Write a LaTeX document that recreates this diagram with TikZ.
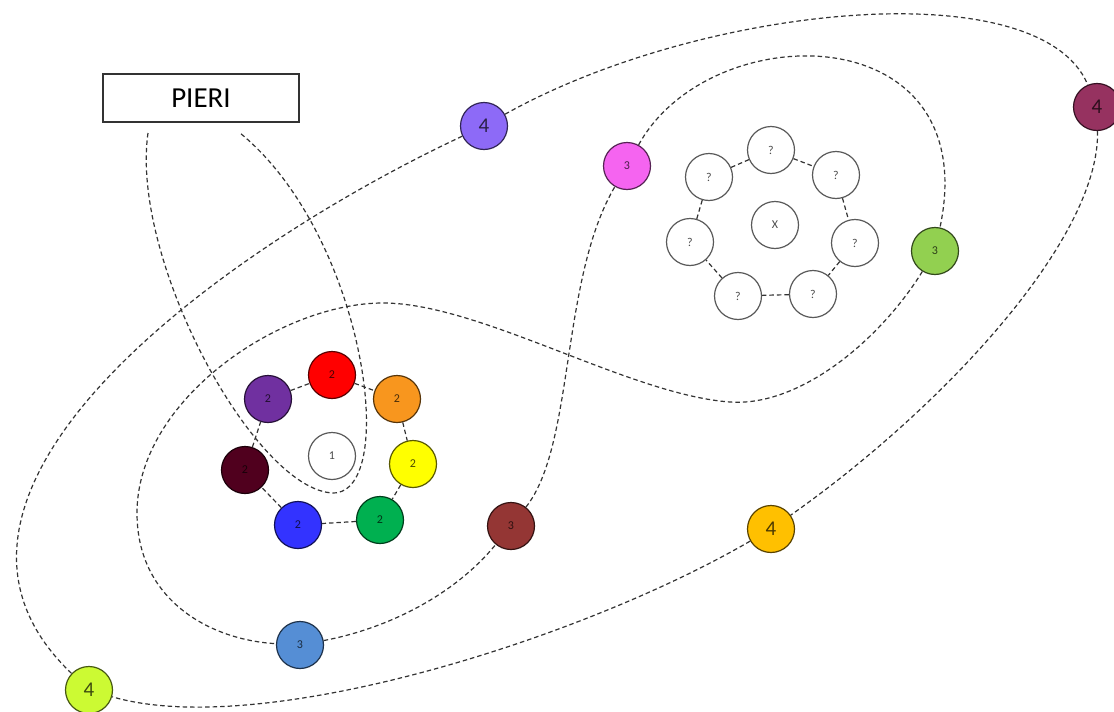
\documentclass[tikz,border=0pt]{standalone}
\usepackage{fontspec}
\setmainfont{Carlito}
\definecolor{redc}{RGB}{255,0,0}
\definecolor{orangec}{RGB}{248,150,30}
\definecolor{yellowc}{RGB}{255,255,0}
\definecolor{greenc}{RGB}{0,176,80}
\definecolor{bluec}{RGB}{51,51,255}
\definecolor{darkc}{RGB}{80,0,30}
\definecolor{purplec}{RGB}{112,48,160}
\definecolor{pinkc}{RGB}{245,100,240}
\definecolor{limegreenc}{RGB}{146,208,80}
\definecolor{brownc}{RGB}{148,54,52}
\definecolor{skyc}{RGB}{85,142,213}
\definecolor{violetc}{RGB}{141,106,247}
\definecolor{plumc}{RGB}{150,50,96}
\definecolor{goldc}{RGB}{255,192,0}
\definecolor{limec}{RGB}{204,250,51}
\begin{document}
\begin{tikzpicture}[x=1pt, y=-1pt,
ball/.style={circle, minimum size=47pt, inner sep=0pt, line width=1.2pt,
  draw=#1!35!black, fill=#1, text=#1!30!black},
small/.style={font=\fontsize{12}{12}\selectfont},
big/.style={font=\fontsize{21}{21}\selectfont},
link/.style={draw=black!80, line width=1.2pt, dash pattern=on 4.5pt off 3pt}]
\useasboundingbox (0,0) rectangle (1114,712);
\node[draw=black!80, line width=1.2pt, minimum width=196pt, minimum height=48pt,
  font=\fontsize{29}{29}\selectfont] (pieri) at (201,98) {PIERI};
\coordinate (pl) at (148,133);
\coordinate (pr) at (240,133);
\node[ball=white, small] (one) at (332,456) {1};
\node[ball=redc, small] (two1) at (332,375) {2};
\node[ball=orangec, small] (two2) at (397,399) {2};
\node[ball=yellowc, small] (two3) at (413,464) {2};
\node[ball=greenc, small] (two4) at (380,520) {2};
\node[ball=bluec, small] (two5) at (298,525) {2};
\node[ball=darkc, small] (two6) at (245,470) {2};
\node[ball=purplec, small] (two7) at (268,399) {2};
\node[ball=white, small] (ex) at (775,225) {X};
\node[ball=white, small] (que1) at (771,150) {?};
\node[ball=white, small] (que2) at (836,175) {?};
\node[ball=white, small] (que3) at (855,243) {?};
\node[ball=white, small] (que4) at (813,294) {?};
\node[ball=white, small] (que5) at (738,296) {?};
\node[ball=white, small] (que6) at (690,242) {?};
\node[ball=white, small] (que7) at (709,177) {?};
\node[ball=pinkc, small] (three1) at (627,166) {3};
\node[ball=limegreenc, small] (three2) at (935,251) {3};
\node[ball=brownc, small] (three3) at (511,526) {3};
\node[ball=skyc, small] (three4) at (300,645) {3};
\node[ball=violetc, big] (four1) at (484,126) {4};
\node[ball=plumc, big] (four2) at (1097,107) {4};
\node[ball=goldc, big] (four3) at (771,529) {4};
\node[ball=limec, big] (four4) at (89,690) {4};
\draw[link] (two1) -- (two2) (two2) -- (two3) (two3) -- (two4) (two4) -- (two5)
  (two5) -- (two6) (two6) -- (two7) (two7) -- (two1);
\draw[link] (que1) -- (que2) (que2) -- (que3) (que3) -- (que4) (que4) -- (que5)
  (que5) -- (que6) (que6) -- (que7) (que7) -- (que1);
\draw[link] (pl) .. controls (130,260) and (255,490) .. (333,493)
  .. controls (400,493) and (365,235) .. (pr);
\draw[link] (three4) .. controls (380,630) and (450,600) .. (three3);
\draw[link] (three3) .. controls (575,445) and (560,280) .. (three1);
\draw[link] (three1) .. controls (710,15) and (985,15) .. (three2);
\draw[link] (three2) .. controls (880,340) and (800,407) .. (730,402)
  .. controls (630,395) and (480,303) .. (383,303)
  .. controls (280,303) and (137,400) .. (137,513)
  .. controls (137,600) and (210,640) .. (three4);
\draw[link] (four4) .. controls (-118,493) and (224,248) .. (four1);
\draw[link] (four1) .. controls (700,5) and (1040,-30) .. (four2);
\draw[link] (four2) .. controls (1100,240) and (940,410) .. (four3);
\draw[link] (four3) .. controls (580,640) and (260,740) .. (four4);
\end{tikzpicture}
\end{document}
